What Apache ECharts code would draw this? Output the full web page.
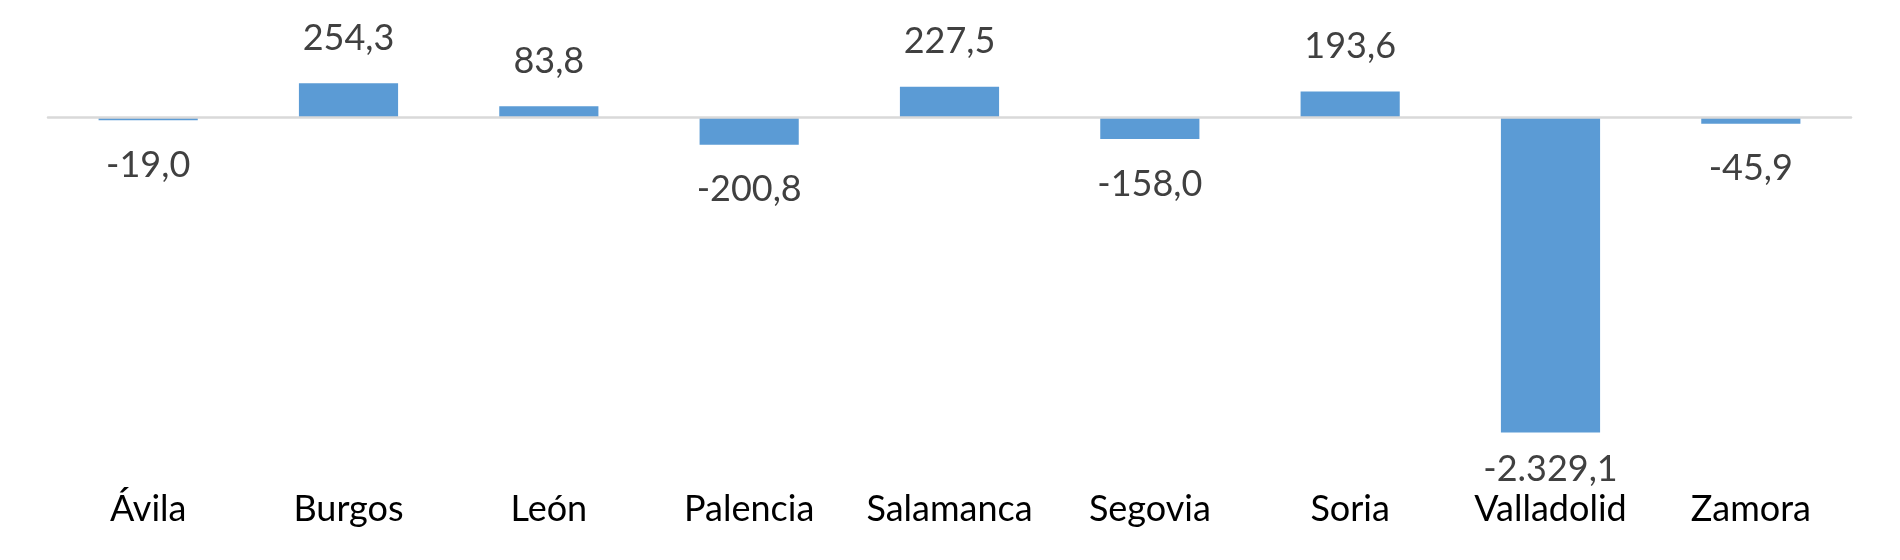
<!DOCTYPE html>
<html>
<head>
<meta charset="utf-8">
<script src="https://cdn.jsdelivr.net/npm/echarts@6/dist/echarts.min.js"></script>
<style>
html,body{margin:0;padding:0;background:#fff;}
#c{width:1900px;height:560px;}
</style>
</head>
<body>
<div id="c"></div>
<script>
const categories = ['Ávila','Burgos','León','Palencia','Salamanca','Segovia','Soria','Valladolid','Zamora'];
const values = [-19.0, 254.3, 83.8, -200.8, 227.5, -158.0, 193.6, -2329.1, -45.9];

function fmt(v){
  const parts = Math.abs(v).toFixed(1).split('.');
  const intPart = parts[0].replace(/\B(?=(\d{3})+(?!\d))/g, '.');
  return (v < 0 ? '-' : '') + intPart + ',' + parts[1];
}

const FONT = 'Lato';
const chart = echarts.init(document.getElementById('c'), null, {renderer:'canvas'});

const seriesData = values.map(function(v, i){
  let label;
  if (v >= 0) {
    label = {position:'top', distance:27};
  } else if (v < -1000) {
    label = {position:'bottom', distance:19};
  } else {
    label = {position:'bottom', distance:27};
  }
  return {value:v, label:label};
});

chart.setOption({
  animation:false,
  backgroundColor:'#ffffff',
  grid:{left:48, right:49, top:50, height:405.6, containLabel:false},
  xAxis:[
    {
      type:'category', data:categories, position:'bottom',
      axisLine:{show:false, onZero:false}, axisTick:{show:false},
      axisLabel:{color:'#000000', fontFamily:FONT, fontSize:36, margin:36, interval:0}
    },
    {
      type:'category', data:categories, position:'bottom', z:5,
      axisLine:{show:true, onZero:true, lineStyle:{color:'#D9D9D9', width:2.5}},
      axisTick:{show:false}, axisLabel:{show:false}
    }
  ],
  yAxis:{type:'value', min:-2500, max:500, show:false, splitLine:{show:false}},
  series:[{
    type:'bar', xAxisIndex:0, data:seriesData, barWidth:'49.5%',
    itemStyle:{color:'#5B9BD5'},
    label:{show:true, color:'#404040', fontFamily:FONT, fontSize:36, formatter:function(p){return fmt(p.value);}}
  }]
});
</script>
</body>
</html>
